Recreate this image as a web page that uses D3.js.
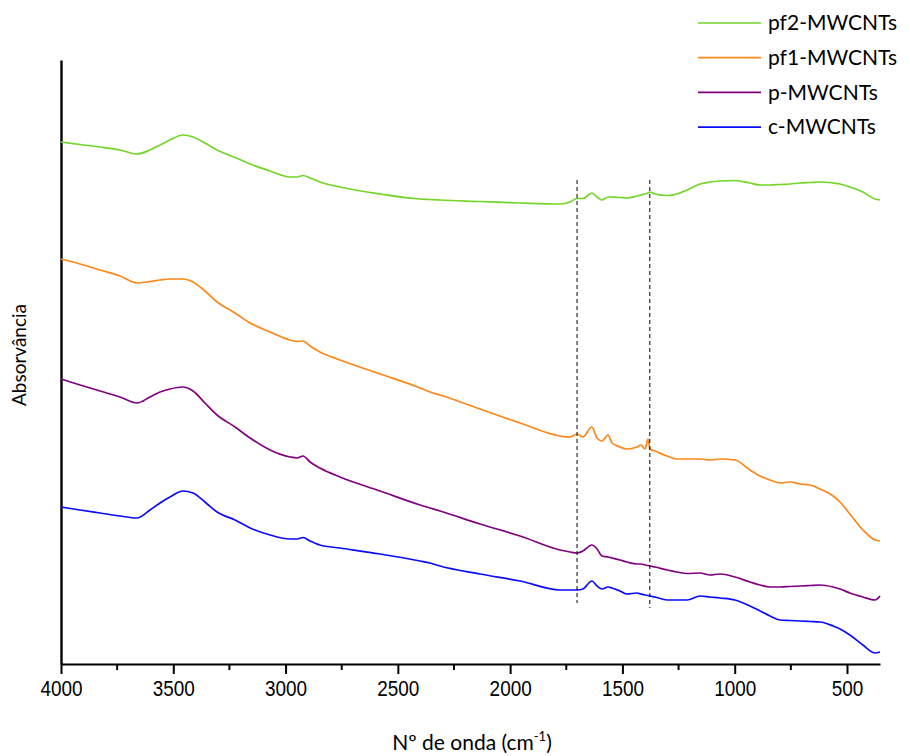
<!DOCTYPE html>
<html>
<head>
<meta charset="utf-8">
<script src="https://cdn.jsdelivr.net/npm/d3@7"></script>
<style>
  body { margin: 0; background: #fff; }
  .legend text { font-family: Lato, "Open Sans", sans-serif; }
</style>
</head>
<body>
<div id="chart"></div>
<script>
// wavenumbers (cm-1), shared by all four spectra
var wavenumbers = [4000, 3915, 3826, 3737, 3662, 3604, 3559, 3515, 3457, 3412, 3359, 3305, 3225, 3158, 3069, 2980, 2949, 2922, 2891, 2847,
  2758, 2579, 2401, 2357, 2312, 2134, 1956, 1778, 1733, 1702, 1676, 1636, 1613, 1591, 1564, 1546, 1511, 1480, 1435, 1418,
  1399, 1386, 1377, 1355, 1301, 1257, 1212, 1154, 1110, 1065, 999, 932, 887, 843, 798, 754, 709, 665, 620, 562,
  531, 487, 429, 375, 353];

// absorbance (a.u., curves already offset as in the figure)
var pf2 = [5.22, 5.195, 5.17, 5.14, 5.10, 5.14, 5.19, 5.24, 5.29, 5.27, 5.21, 5.14, 5.065, 5.00, 4.93, 4.87, 4.87, 4.885, 4.86, 4.82,
  4.77, 4.70, 4.65, 4.645, 4.64, 4.625, 4.61, 4.60, 4.62, 4.655, 4.655, 4.71, 4.67, 4.64, 4.67, 4.67, 4.665, 4.66, 4.68, 4.69,
  4.70, 4.71, 4.72, 4.70, 4.685, 4.70, 4.74, 4.80, 4.82, 4.83, 4.835, 4.81, 4.79, 4.79, 4.795, 4.80, 4.81, 4.815, 4.82, 4.81,
  4.80, 4.77, 4.72, 4.65, 4.64];
var pf1 = [4.05, 4.00, 3.94, 3.88, 3.81, 3.825, 3.84, 3.85, 3.85, 3.82, 3.73, 3.62, 3.51, 3.41, 3.32, 3.24, 3.225, 3.23, 3.18, 3.12,
  3.04, 2.90, 2.76, 2.72, 2.69, 2.55, 2.41, 2.28, 2.27, 2.30, 2.27, 2.37, 2.26, 2.23, 2.29, 2.21, 2.17, 2.15, 2.17, 2.19,
  2.15, 2.25, 2.15, 2.13, 2.08, 2.05, 2.05, 2.05, 2.04, 2.05, 2.04, 1.94, 1.88, 1.84, 1.81, 1.82, 1.80, 1.79, 1.75, 1.68,
  1.62, 1.50, 1.34, 1.24, 1.23];
var p = [2.85, 2.79, 2.73, 2.67, 2.61, 2.67, 2.72, 2.75, 2.77, 2.73, 2.61, 2.49, 2.37, 2.26, 2.14, 2.07, 2.06, 2.08, 2.02, 1.96,
  1.87, 1.73, 1.59, 1.56, 1.53, 1.40, 1.28, 1.14, 1.12, 1.11, 1.13, 1.19, 1.15, 1.08, 1.07, 1.06, 1.04, 1.02, 1.00, 1.00,
  0.99, 0.985, 0.98, 0.97, 0.94, 0.92, 0.905, 0.91, 0.89, 0.90, 0.87, 0.82, 0.79, 0.77, 0.77, 0.775, 0.78, 0.785, 0.79, 0.77,
  0.75, 0.71, 0.67, 0.64, 0.68];
var c = [1.57, 1.54, 1.51, 1.48, 1.46, 1.54, 1.61, 1.67, 1.73, 1.71, 1.62, 1.52, 1.44, 1.36, 1.29, 1.25, 1.25, 1.265, 1.23, 1.19,
  1.16, 1.10, 1.03, 1.01, 0.98, 0.90, 0.83, 0.74, 0.74, 0.74, 0.75, 0.83, 0.78, 0.75, 0.77, 0.76, 0.73, 0.70, 0.71, 0.70,
  0.69, 0.685, 0.68, 0.67, 0.64, 0.64, 0.64, 0.68, 0.67, 0.66, 0.64, 0.58, 0.53, 0.48, 0.44, 0.435, 0.43, 0.425, 0.42, 0.38,
  0.35, 0.29, 0.19, 0.11, 0.12];

var seriesNames = ['pf2-MWCNTs', 'pf1-MWCNTs', 'p-MWCNTs', 'c-MWCNTs'];
var seriesValues = [pf2, pf1, p, c];
var seriesColors = ['#72d628', '#ff8619', '#800080', '#0a0aff'];

// dashed guide lines
var markerWave = [1702, 1378];
var markerTop = [4.84, 4.84];
var markerBottom = [0.61, 0.56];

var xTicks = [4000, 3500, 3000, 2500, 2000, 1500, 1000, 500];
var xMinorTicks = [3750, 3250, 2750, 2250, 1750, 1250, 750];

var width = 910, height = 756;
var margin = {t: 60, r: 30, b: 92, l: 61};

var svg = d3.select('#chart').append('svg')
    .attr('width', width)
    .attr('height', height);

var scaleX = d3.scaleLinear().domain([4000, 353]).range([margin.l, width - margin.r]);
var scaleY = d3.scaleLinear().domain([0, 6.04]).range([height - margin.b, margin.t]);

// x axis
var xAxis = d3.axisBottom(scaleX).tickValues(xTicks).tickFormat(d3.format('d'))
    .tickSize(10).tickSizeOuter(0).tickPadding(6);
var gx = svg.append('g')
    .attr('transform', 'translate(0,' + (height - margin.b) + ')')
    .call(xAxis);
gx.select('.domain').attr('stroke', '#000').attr('stroke-width', 2.2);
gx.selectAll('.tick line').attr('stroke', '#000').attr('stroke-width', 2);
gx.selectAll('.tick text')
    .attr('font-family', '"Liberation Sans", Arial, sans-serif')
    .attr('font-size', 22)
    .attr('transform', 'scale(0.86,1)')
    .attr('fill', '#000');

svg.append('g').selectAll('line.minor')
    .data(xMinorTicks)
    .enter().append('line')
    .attr('class', 'minor')
    .attr('x1', function(d){ return scaleX(d); })
    .attr('x2', function(d){ return scaleX(d); })
    .attr('y1', height - margin.b)
    .attr('y2', height - margin.b + 6)
    .attr('stroke', '#000').attr('stroke-width', 2);

// y axis - only the line, no labels
var yAxis = d3.axisLeft(scaleY).tickValues([]).tickSizeOuter(0);
var gy = svg.append('g')
    .attr('transform', 'translate(' + margin.l + ',0)')
    .call(yAxis);
gy.select('.domain').attr('stroke', '#000').attr('stroke-width', 2.4);

// spectra
var line = d3.line()
    .x(function(d, i){ return scaleX(wavenumbers[i]); })
    .y(function(d){ return scaleY(d); })
    .curve(d3.curveMonotoneX);

svg.append('g').selectAll('path.spectrum')
    .data(seriesValues)
    .enter().append('path')
    .attr('class', 'spectrum')
    .attr('d', line)
    .attr('fill', 'none')
    .attr('stroke', function(d, i){ return seriesColors[i]; })
    .attr('stroke-width', 1.7);

// dashed lines at 1702 and 1378
svg.append('g').selectAll('line.marker')
    .data(markerWave)
    .enter().append('line')
    .attr('class', 'marker')
    .attr('x1', function(d){ return scaleX(d); })
    .attr('x2', function(d){ return scaleX(d); })
    .attr('y1', function(d, i){ return scaleY(markerTop[i]); })
    .attr('y2', function(d, i){ return scaleY(markerBottom[i]); })
    .attr('stroke', '#000')
    .attr('stroke-width', 1)
    .attr('stroke-dasharray', '4,3');

// legend
var legend = svg.append('g').attr('class', 'legend');
seriesNames.forEach(function(name, i){
    var ly = 23 + i * 34.7;
    legend.append('line')
        .attr('x1', 698).attr('x2', 761)
        .attr('y1', ly).attr('y2', ly)
        .attr('stroke', seriesColors[i]).attr('stroke-width', 1.7);
    legend.append('text')
        .attr('x', 768).attr('y', ly)
        .attr('dy', '0.35em')
        .attr('font-size', 21)
        .attr('fill', '#000')
        .text(name);
});

// axis titles
var xTitle = svg.append('text')
    .attr('x', 472)
    .attr('y', 750)
    .attr('text-anchor', 'middle')
    .attr('font-family', 'Lato, "Open Sans", sans-serif')
    .attr('font-size', 21)
    .attr('fill', '#000');
xTitle.append('tspan').text('Nº de onda (cm');
xTitle.append('tspan').attr('dy', -9).attr('font-size', 13).text('-1');
xTitle.append('tspan').attr('dy', 9).text(')');

svg.append('text')
    .attr('transform', 'translate(26,355) rotate(-90)')
    .attr('text-anchor', 'middle')
    .attr('font-family', 'Lato, "Open Sans", sans-serif')
    .attr('font-size', 19)
    .attr('fill', '#000')
    .text('Absorvância');
</script>
</body>
</html>
